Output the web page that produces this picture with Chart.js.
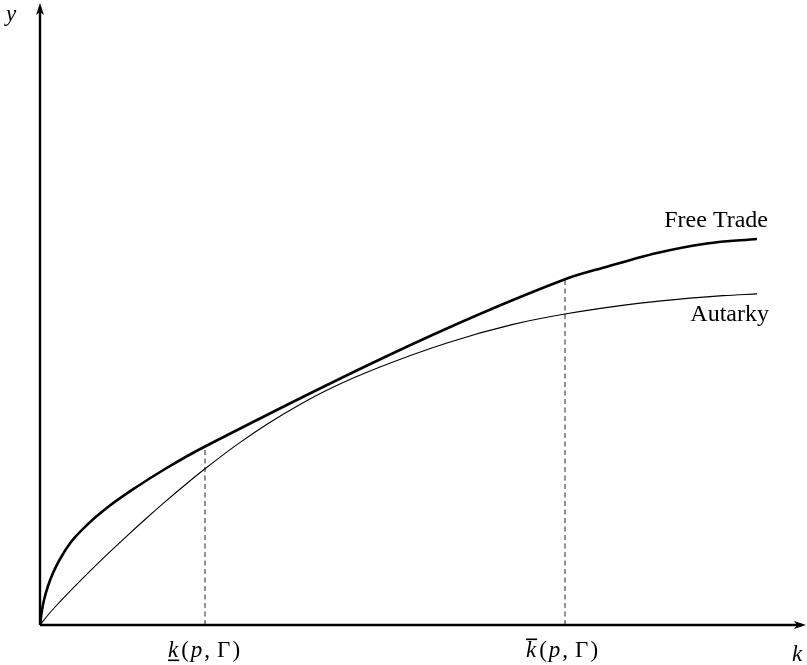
<!DOCTYPE html>
<html>
<head>
<meta charset="utf-8">
<script src="https://cdn.jsdelivr.net/npm/chart.js@4.4.0/dist/chart.umd.min.js"></script>
<style>
  html, body { margin: 0; padding: 0; background: #ffffff; }
  #wrap { width: 807px; height: 665px; position: relative; }
</style>
</head>
<body>
<div id="wrap"><canvas id="tradeChart"></canvas></div>
<script>
// capital per worker (k) and output per worker (y)
const freeTradeK = [0, 2, 4, 8, 13, 20, 31, 48, 68, 95, 125, 165, 525, 567, 617, 667, 717];
const freeTradeY = [0, 15, 25, 39, 52, 66, 83, 101, 118, 137, 156, 178.5, 345.7, 358.3, 372, 381.5, 386];

const autarkyK = [0, 8, 16, 35, 51, 68, 86, 105, 125, 145, 165, 198, 227, 260, 293, 340, 407, 473, 525, 600, 650, 683, 717];
const autarkyY = [0, 10, 19, 38.8, 54.8, 71.3, 88.2, 105.5, 123.1, 140, 156.2, 181.1, 200.8, 220.6, 237.8, 258, 282.1, 300.6, 311, 321.9, 326.9, 329.4, 331.1];

// the two cutoffs on the k axis
const kLow = 165;
const kHigh = 525;

const seriesLabels = ["Free Trade", "Autarky"];
const axisLabels = { x: "k", y: "y" };

const kMax = 766;
const yMax = 622;

function toPoints(xs, ys) {
  return xs.map((x, i) => ({ x: x, y: ys[i] }));
}

const kLowTop = freeTradeY[freeTradeK.indexOf(kLow)];
const kHighTop = freeTradeY[freeTradeK.indexOf(kHigh)];

const serif = "'Liberation Serif', 'DejaVu Serif', serif";

// draws a math label like k(p, Γ) centred on cx, with an under/over bar on the k
function drawCutLabel(ctx, cx, baseline, bar) {
  const pieces = [
    ["k", true], ["(", false], ["p", true], [",", false], ["Γ", false], [")", false],
  ];
  const gaps = [3, 2, 2, 7, 2, 0];
  let total = 0;
  const widths = pieces.map((p, i) => {
    ctx.font = (p[1] ? "italic " : "") + "23px " + serif;
    const w = ctx.measureText(p[0]).width;
    total += w + gaps[i];
    return w;
  });
  let x = cx - total / 2;
  const kStart = x;
  pieces.forEach((p, i) => {
    ctx.font = (p[1] ? "italic " : "") + "23px " + serif;
    ctx.fillText(p[0], x, baseline);
    x += widths[i] + gaps[i];
  });
  ctx.fillRect(kStart, bar === "under" ? baseline + 2.5 : baseline - 18.5, widths[0] + 1, 1.6);
}

const axesPlugin = {
  id: "axesPlugin",
  afterDraw(chart) {
    const ctx = chart.ctx;
    const area = chart.chartArea;
    const xs = chart.scales.x;
    const ys = chart.scales.y;
    const ox = xs.getPixelForValue(0);
    const oy = ys.getPixelForValue(0);

    ctx.save();
    ctx.fillStyle = "#000";
    ctx.strokeStyle = "#000";
    ctx.lineWidth = 2.4;

    // axes
    ctx.beginPath();
    ctx.moveTo(ox, oy);
    ctx.lineTo(area.right - 4, oy);
    ctx.moveTo(ox, oy);
    ctx.lineTo(ox, area.top + 4);
    ctx.stroke();

    // arrow heads
    ctx.beginPath();
    ctx.moveTo(area.right, oy);
    ctx.lineTo(area.right - 12, oy - 4);
    ctx.lineTo(area.right - 9, oy);
    ctx.lineTo(area.right - 12, oy + 4);
    ctx.closePath();
    ctx.fill();
    ctx.beginPath();
    ctx.moveTo(ox, area.top);
    ctx.lineTo(ox - 4, area.top + 12);
    ctx.lineTo(ox, area.top + 9);
    ctx.lineTo(ox + 4, area.top + 12);
    ctx.closePath();
    ctx.fill();

    // axis names
    ctx.font = "italic 23px " + serif;
    ctx.textBaseline = "alphabetic";
    ctx.textAlign = "left";
    ctx.fillText(axisLabels.y, 6, 21);
    ctx.fillText(axisLabels.x, 792, 661);

    // cutoff labels under the axis
    drawCutLabel(ctx, xs.getPixelForValue(kLow) - 1, 657, "under");
    drawCutLabel(ctx, xs.getPixelForValue(kHigh) - 3, 657, "over");

    // series names next to the curve ends
    ctx.font = "24px " + serif;
    ctx.textAlign = "right";
    const ftEnd = freeTradeK.length - 1;
    const auEnd = autarkyK.length - 1;
    ctx.fillText(seriesLabels[0],
      xs.getPixelForValue(freeTradeK[ftEnd]) + 11,
      ys.getPixelForValue(freeTradeY[ftEnd]) - 12);
    ctx.fillText(seriesLabels[1],
      xs.getPixelForValue(autarkyK[auEnd]) + 12,
      ys.getPixelForValue(autarkyY[auEnd]) + 27);
    ctx.restore();
  },
};

const tradeChart = document.getElementById("tradeChart");
new Chart(tradeChart, {
  type: "scatter",
  data: {
    datasets: [
      {
        label: seriesLabels[0],
        data: toPoints(freeTradeK, freeTradeY),
        showLine: true,
        borderColor: "#000",
        borderWidth: 2.6,
        pointRadius: 0,
        cubicInterpolationMode: "monotone",
      },
      {
        label: seriesLabels[1],
        data: toPoints(autarkyK, autarkyY),
        showLine: true,
        borderColor: "#000",
        borderWidth: 1.1,
        pointRadius: 0,
        cubicInterpolationMode: "monotone",
      },
      {
        label: "kLow",
        data: [{ x: kLow, y: 0 }, { x: kLow, y: kLowTop }],
        showLine: true,
        borderColor: "#222",
        borderWidth: 1,
        borderDash: [5, 3.5],
        pointRadius: 0,
      },
      {
        label: "kHigh",
        data: [{ x: kHigh, y: 0 }, { x: kHigh, y: kHighTop }],
        showLine: true,
        borderColor: "#222",
        borderWidth: 1,
        borderDash: [5, 3.5],
        pointRadius: 0,
      },
    ],
  },
  options: {
    responsive: true,
    maintainAspectRatio: false,
    animation: false,
    layout: { padding: { left: 40, right: 1, top: 3, bottom: 40 } },
    scales: {
      x: { type: "linear", min: 0, max: kMax, display: false },
      y: { type: "linear", min: 0, max: yMax, display: false },
    },
    plugins: {
      legend: { display: false },
      tooltip: { enabled: false },
    },
  },
  plugins: [axesPlugin],
});
</script>
</body>
</html>
